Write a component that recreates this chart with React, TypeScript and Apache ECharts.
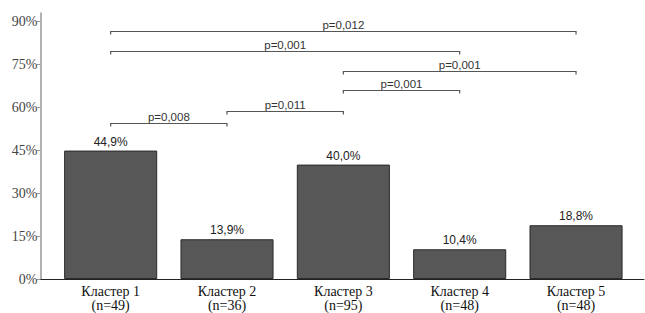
import React, { useEffect, useRef } from "react";
import * as echarts from "echarts";

const categories = [
  "Кластер 1\n(n=49)",
  "Кластер 2\n(n=36)",
  "Кластер 3\n(n=95)",
  "Кластер 4\n(n=48)",
  "Кластер 5\n(n=48)",
];
const values = [44.9, 13.9, 40.0, 10.4, 18.8];
const yTicks = [0, 15, 30, 45, 60, 75, 90];
const yMax = 93;

// significance brackets: from category index, to category index, height (%), label
const bracketFrom = [0, 0, 2, 2, 1, 0];
const bracketTo = [4, 3, 4, 3, 2, 1];
const bracketLevel = [86.8, 79.8, 72.8, 66.2, 58.9, 54.6];
const bracketLabel = ["p=0,012", "p=0,001", "p=0,001", "p=0,001", "p=0,011", "p=0,008"];

const fmt = (v: number) => v.toFixed(1).replace(".", ",") + "%";

export default function App() {
  const ref = useRef<HTMLDivElement>(null);
  useEffect(() => {
    if (!ref.current) return;
    const chart = echarts.init(ref.current, undefined, { renderer: "svg" });
    const bracketData = bracketFrom.map((f, i) => [f, bracketTo[i], bracketLevel[i], bracketLabel[i]]);
    chart.setOption({
      animation: false,
      backgroundColor: "#ffffff",
      grid: [
        { left: 52.5, right: 10.8, top: 13, bottom: 34, outerBoundsMode: "none", containLabel: false },
        { left: 40.5, right: 1, top: 13, bottom: 34, outerBoundsMode: "none", containLabel: false },
      ],
      xAxis: [
        {
          type: "category",
          gridIndex: 0,
          data: categories,
          axisLine: { show: false },
          axisTick: { show: false },
          axisLabel: {
            margin: 5,
            fontFamily: "Liberation Serif",
            fontSize: 14,
            lineHeight: 14,
            color: "#111",
          },
        },
        {
          type: "value",
          gridIndex: 1,
          min: 0,
          max: 1,
          axisLine: { show: true, lineStyle: { color: "#222", width: 1 } },
          axisTick: { show: false },
          axisLabel: { show: false },
          splitLine: { show: false },
        },
      ],
      yAxis: [
        {
          type: "value",
          gridIndex: 0,
          min: 0,
          max: yMax,
          show: false,
          splitLine: { show: false },
        },
        {
          type: "value",
          gridIndex: 1,
          min: 0,
          max: yMax,
          interval: 15,
          axisLine: { show: true, lineStyle: { color: "#999", width: 1.5 } },
          axisTick: {
            show: true,
            length: 4,
            customValues: yTicks,
            lineStyle: { color: "#999", width: 1 },
          },
          axisLabel: {
            margin: 3,
            customValues: yTicks,
            fontFamily: "Liberation Serif",
            fontSize: 14,
            color: "#444",
            formatter: (v: number) => (v % 15 === 0 ? v + "%" : ""),
          },
          splitLine: { show: false },
        },
      ],
      series: [
        {
          type: "bar",
          xAxisIndex: 0,
          yAxisIndex: 0,
          data: values,
          barWidth: "80%",
          itemStyle: { color: "#575757", borderColor: "#2a2a2a", borderWidth: 1 },
          label: {
            show: true,
            position: "top",
            distance: 3,
            fontFamily: "Liberation Sans",
            fontSize: 12,
            color: "#222",
            formatter: (p: any) => fmt(p.value),
          },
        },
        {
          type: "custom",
          xAxisIndex: 0,
          yAxisIndex: 0,
          clip: false,
          data: bracketData,
          encode: { x: [0, 1], y: 2 },
          renderItem: (params: any, api: any) => {
            const a = api.coord([api.value(0), api.value(2)]);
            const b = api.coord([api.value(1), api.value(2)]);
            const label = bracketData[params.dataIndex][3] as string;
            const y = Math.round(a[1]) + 0.5;
            return {
              type: "group",
              children: [
                {
                  type: "polyline",
                  shape: {
                    points: [
                      [a[0], y + 3],
                      [a[0], y],
                      [b[0], y],
                      [b[0], y + 3],
                    ],
                  },
                  style: { stroke: "#555", lineWidth: 1.2, fill: null },
                },
                {
                  type: "text",
                  style: {
                    text: label,
                    x: (a[0] + b[0]) / 2,
                    y: y - 1,
                    align: "center",
                    verticalAlign: "bottom",
                    fontFamily: "Liberation Sans",
                    fontSize: 11.5,
                    fill: "#333",
                  },
                },
              ],
            };
          },
        },
      ],
    });
    return () => chart.dispose();
  }, []);
  return <div ref={ref} style={{ width: 645, height: 313, position: "absolute", left: 0, top: 0 }} />;
}
